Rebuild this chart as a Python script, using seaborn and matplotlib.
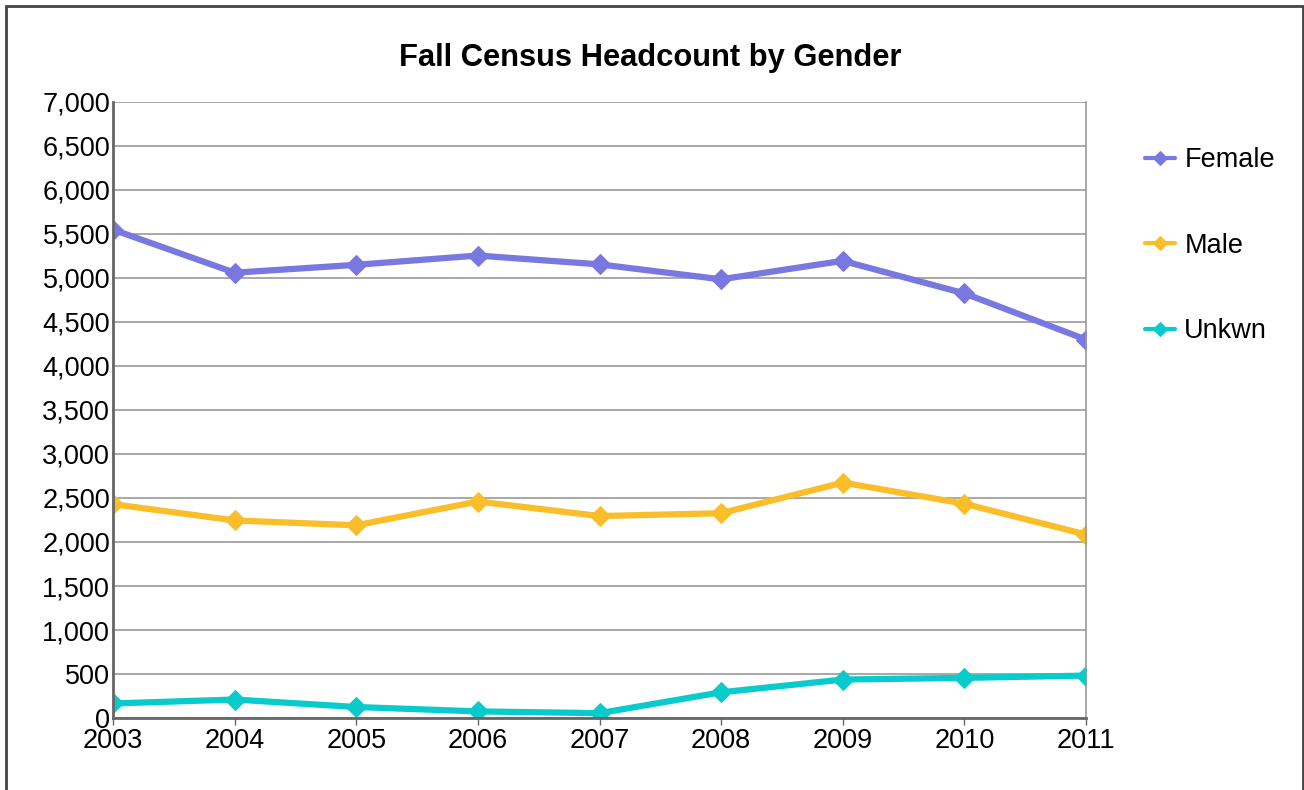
import matplotlib
matplotlib.use("Agg")
import matplotlib.pyplot as plt
import matplotlib.ticker as mticker
from matplotlib.patches import Rectangle
import seaborn as sns
import pandas as pd

years = [2003, 2004, 2005, 2006, 2007, 2008, 2009, 2010, 2011]
female = [5550, 5060, 5150, 5255, 5155, 4985, 5195, 4825, 4300]
male = [2430, 2245, 2190, 2460, 2295, 2327, 2675, 2435, 2085]
unkwn = [165, 210, 125, 75, 55, 292, 437, 456, 482]
genders = ["Female", "Male", "Unkwn"]
colors = ["#7878E0", "#F9BE2A", "#0ACBCB"]

df = pd.DataFrame({"Year": years * 3,
                   "Headcount": female + male + unkwn,
                   "Gender": sum([[g] * len(years) for g in genders], [])})

sns.set_style("white")
plt.rcParams["font.family"] = ["Liberation Sans", "DejaVu Sans"]
plt.rcParams["text.color"] = "black"
plt.rcParams["xtick.color"] = "black"
plt.rcParams["ytick.color"] = "black"

fig = plt.figure(figsize=(13.04, 7.9), dpi=100)
ax = fig.add_axes([113 / 1304, 1 - 718 / 790, (1086 - 113) / 1304, (718 - 102) / 790])

sns.lineplot(data=df, x="Year", y="Headcount", hue="Gender", style="Gender",
             palette=colors, markers=["D"] * 3, dashes=False, linewidth=4.5,
             markersize=10.5, ax=ax)
for ln, c in zip(ax.get_lines(), colors):
    ln.set_markeredgecolor(c)
    ln.set_markerfacecolor(c)

ax.set_xlim(2003, 2011)
ax.set_ylim(0, 7000)
ax.set_xticks(years)
ax.set_yticks(range(0, 7001, 500))
ax.yaxis.set_major_formatter(mticker.FuncFormatter(lambda v, p: f"{int(v):,}"))
ax.set_xlabel("")
ax.set_ylabel("")
ax.grid(axis="y", color="#999999", linewidth=1.2)
ax.set_axisbelow(True)
ax.spines["top"].set_visible(False)
ax.spines["right"].set_color("#999999")
ax.spines["right"].set_linewidth(1.2)
for s in ["left", "bottom"]:
    ax.spines[s].set_color("#666666")
    ax.spines[s].set_linewidth(2)
ax.tick_params(axis="x", labelsize=19.5, length=5, width=1, color="#666666",
               labelcolor="black", pad=2, bottom=True)
ax.tick_params(axis="y", labelsize=19.5, length=0, pad=2, labelcolor="black")

handles, labels = ax.get_legend_handles_labels()
if ax.get_legend():
    ax.get_legend().remove()
leg = fig.legend(handles, labels, loc="upper left", bbox_to_anchor=(1145 / 1304, 1 - 147 / 790),
                 frameon=False, fontsize=19.5, handlelength=1.1, handletextpad=0.35,
                 labelspacing=2.2, borderpad=0, borderaxespad=0)
for ln, c in zip(leg.get_lines(), colors):
    ln.set_linewidth(3)
    ln.set_markersize(7)
    ln.set_markeredgecolor(c)
    ln.set_markerfacecolor(c)

fig.text(0.4985, 1 - 66 / 790, "Fall Census Headcount by Gender", ha="center", va="baseline",
         fontsize=22.2, fontweight="bold", color="black")

fig.patches.append(Rectangle((6 / 1304, -0.05), (1303 - 6) / 1304, 1.05 - 6 / 790,
                             transform=fig.transFigure, fill=False, edgecolor="#444444",
                             linewidth=2))

fig.savefig("out.png", dpi=100)
